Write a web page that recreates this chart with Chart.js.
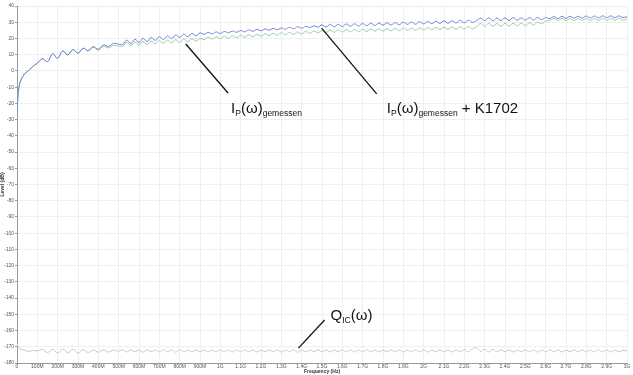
<!DOCTYPE html>
<html>
<head>
<meta charset="utf-8">
<script src="https://cdn.jsdelivr.net/npm/chart.js@4/dist/chart.umd.min.js"></script>
<style>
  html, body { margin: 0; padding: 0; background: #fff; }
  #wrap { width: 633px; height: 375px; }
</style>
</head>
<body>
<div id="wrap"><canvas id="chart" width="633" height="375"></canvas></div>
<script>
// ===== Data (frequency in MHz, level in dB) =====
const freqMHz = [
  0, 4, 10, 20, 40, 60, 80, 100, 125, 150, 175, 200, 225, 250, 275, 300, 325, 350, 375, 400, 425, 450, 475, 500,
  520, 540, 560, 580, 600, 620, 640, 660, 680, 700, 720, 740, 760, 780, 800, 820, 840, 860, 880, 900,
  920, 940, 960, 980, 1000, 1020, 1040, 1060, 1080, 1100, 1120, 1140, 1160, 1180, 1200, 1220, 1240, 1260, 1280, 1300,
  1320, 1340, 1360, 1380, 1400, 1420, 1440, 1460, 1480, 1500,
  1520, 1540, 1560, 1580, 1600, 1620, 1640, 1660, 1680, 1700, 1720, 1740, 1760, 1780, 1800, 1820, 1840, 1860, 1880, 1900,
  1920, 1940, 1960, 1980, 2000, 2020, 2040, 2060, 2080, 2100, 2120, 2140, 2160, 2180, 2200, 2220, 2240, 2260,
  2280, 2300, 2320, 2340, 2360, 2380, 2400, 2420, 2440, 2460, 2480, 2500, 2520, 2540, 2560, 2580, 2600,
  2620, 2640, 2660, 2680, 2700, 2720, 2740, 2760, 2780, 2800, 2820, 2840, 2860, 2880, 2900, 2920, 2940, 2960, 2980, 3000
];

// I_P(w) gemessen + K1702 (blue)
const ipK1702 = [
  -27, -17, -10, -5.5, -1.5, 0.5, 3, 4.7, 7.5, 5.7, 10.5, 7.8, 12.3, 9.8, 13.2, 10.9, 14, 12.5, 15, 13.3, 16, 15, 17, 16.5,
  16.3, 19.0, 16.9, 19.6, 17.5, 20.0, 18.1, 20.6, 18.8, 21.1, 19.3, 21.6, 19.9, 22.1, 20.6, 22.6, 21.1, 23.1, 21.7, 23.4,
  22.5, 23.7, 22.8, 24.0, 23.1, 24.3, 23.5, 24.6, 23.8, 24.9, 24.1, 25.3, 24.4, 25.6, 24.7, 25.9, 25.1, 26.2, 25.4, 26.5,
  25.7, 26.9, 26.0, 27.2, 26.3, 27.5, 26.7, 27.8, 27.0, 28.3,
  27.1, 28.6, 27.2, 28.7, 27.4, 28.9, 27.6, 29.0, 27.7, 29.2, 27.9, 29.3, 28.0, 29.5, 28.2, 29.7, 28.3, 29.8, 28.5, 30.0,
  28.7, 30.1, 28.8, 30.3, 29.0, 30.4, 29.1, 30.6, 29.3, 30.8, 29.4, 30.9, 29.6, 31.1, 29.7, 31.2, 29.9, 31.0,
  32.5, 31.0, 32.7, 30.9, 32.6, 31.0, 32.7, 31.1, 32.8, 31.2, 32.7, 31.3, 32.8, 31.4, 32.9, 31.6, 32.9,
  32.2, 33.5, 32.3, 33.6, 32.4, 33.7, 32.5, 33.7, 32.5, 33.8, 32.6, 33.8, 32.7, 33.9, 32.8, 33.9, 32.8, 33.9, 32.9, 33.4
];

// I_P(w) gemessen (green)
const ipMeasured = [
  -27, -17, -10, -5.5, -1.5, 0.5, 3, 4.7, 7.5, 5.7, 10.5, 7.8, 12.3, 9.8, 13.2, 10.9, 14, 12.3, 14.6, 12.8, 15.3, 14.2, 15.8, 15.3,
  15.3, 17.5, 15.6, 17.8, 15.9, 18.1, 16.3, 18.4, 16.6, 18.7, 17.0, 19.0, 17.3, 19.3, 17.6, 19.6, 18.1, 19.8, 18.4, 20.0,
  19.3, 20.8, 19.6, 21.1, 19.9, 21.4, 20.2, 21.7, 20.5, 22.0, 20.7, 22.3, 21.0, 22.6, 21.3, 22.9, 21.6, 23.2, 21.9, 23.5,
  22.2, 23.7, 22.5, 24.0, 22.8, 24.3, 23.1, 24.6, 23.4, 24.9,
  23.7, 25.2, 23.8, 25.3, 24.0, 25.4, 24.1, 25.5, 24.2, 25.7, 24.3, 25.8, 24.5, 25.9, 24.6, 26.0, 24.7, 26.2, 24.8, 26.3,
  25.0, 26.4, 25.1, 26.5, 25.2, 26.7, 25.3, 26.8, 25.5, 26.9, 25.6, 27.0, 25.7, 27.2, 25.8, 27.3, 26.0, 27.3,
  29.2, 27.6, 29.3, 27.5, 29.2, 27.6, 29.3, 27.7, 29.4, 27.8, 29.4, 28.0, 29.6, 28.3, 30.0, 29.0, 30.8,
  31.0, 32.4, 31.1, 32.3, 31.0, 32.2, 31.0, 32.2, 31.1, 32.2, 31.1, 32.3, 31.2, 32.3, 31.2, 32.4, 31.3, 32.4, 31.3, 32.0
];

// Q_IC(w) (gray)
const qIC = [
  -168, -169.5, -170.8, -171.5, -172.3, -172.8, -172.2, -172.6, -171.6, -173.6, -171.5, -173.8, -171.4, -173.7, -171.5, -173.9,
  -171.8, -173.5, -172.0, -173.4, -171.9, -173.3, -172.0, -172.8,
  -171.9, -173.2, -171.8, -173.1, -172.0, -173.3, -171.9, -173.0, -172.0, -173.2,
  -171.8, -173.1, -172.0, -173.3, -171.9, -173.0, -172.1, -173.2, -171.9, -173.1,
  -172.0, -173.2, -172.1, -173.0, -171.9, -173.1, -172.0, -173.2, -172.1, -173.0,
  -171.9, -173.1, -172.0, -173.2, -172.1, -173.0, -171.9, -173.1, -172.0, -173.2,
  -172.1, -173.0, -171.9, -173.3, -172.0, -173.1, -172.1, -173.0, -171.9, -173.1,
  -172.0, -173.2, -172.1, -173.0, -171.9, -173.1, -172.0, -173.2, -172.1, -173.0,
  -171.9, -173.1, -172.0, -173.2, -172.1, -173.0, -171.9, -173.1, -172.0, -173.2,
  -172.1, -173.0, -171.9, -173.1, -172.0, -173.2, -172.1, -173.0, -171.9, -173.1,
  -172.0, -173.2, -172.1, -173.0, -171.7, -173.1, -171.2, -170.6, -172.8, -171.5,
  -173.2, -171.6, -173.1, -171.8, -173.0, -172.0, -173.2, -172.1, -173.0, -171.9,
  -173.1, -172.0, -173.2, -172.1, -173.0, -171.9, -173.1, -172.0, -173.2, -172.1,
  -173.0, -171.9, -173.1, -172.0, -173.2, -172.1, -173.0, -171.9, -173.1, -172.0,
  -173.2, -172.1, -173.0, -172.2, -172.6
];

const xTickLabels = [
  '0', '100M', '200M', '300M', '400M', '500M', '600M', '700M', '800M', '900M',
  '1G', '1.1G', '1.2G', '1.3G', '1.4G', '1.5G', '1.6G', '1.7G', '1.8G', '1.9G',
  '2G', '2.1G', '2.2G', '2.3G', '2.4G', '2.5G', '2.6G', '2.7G', '2.8G', '2.9G', '3G'
];

// ===== Annotations (data coords: MHz, dB) =====
const pointerLines = [
  { from: [830, 16.6], to: [1038, -13.6] },
  { from: [1498, 26.4], to: [1769, -14.2] },
  { from: [1384, -170.8], to: [1513, -153.5] }
];

const labelParts = [
  { at: [1053, -25.9], parts: [['I', 0], ['P', 1], ['(\u03c9)', 0], ['gemessen', 1]] },
  { at: [1819, -25.9], parts: [['I', 0], ['P', 1], ['(\u03c9)', 0], ['gemessen', 1], [' + K1702', 0]] },
  { at: [1542, -153.5], parts: [['Q', 0], ['IC', 1], ['(\u03c9)', 0]] }
];

const toXY = (xs, ys) => xs.map((x, i) => ({ x: x, y: ys[i] }));

const annotate = {
  id: 'annotate',
  afterDatasetsDraw(chart) {
    const { ctx, scales: { x, y } } = chart;
    ctx.save();
    ctx.strokeStyle = '#111';
    ctx.lineWidth = 1.3;
    pointerLines.forEach(l => {
      ctx.beginPath();
      ctx.moveTo(x.getPixelForValue(l.from[0]), y.getPixelForValue(l.from[1]));
      ctx.lineTo(x.getPixelForValue(l.to[0]), y.getPixelForValue(l.to[1]));
      ctx.stroke();
    });
    ctx.fillStyle = '#111';
    ctx.textBaseline = 'alphabetic';
    labelParts.forEach(lab => {
      let px = x.getPixelForValue(lab.at[0]);
      const py = y.getPixelForValue(lab.at[1]);
      lab.parts.forEach(([txt, sub]) => {
        ctx.font = sub ? '8.5px "Liberation Sans", Arial, sans-serif' : '15px "Liberation Sans", Arial, sans-serif';
        ctx.fillText(txt, px, py + (sub ? 3 : 0));
        px += ctx.measureText(txt).width;
      });
    });
    ctx.restore();
  }
};

const tickFont = { family: '"Liberation Sans", Arial, sans-serif', size: 5 };

new Chart(document.getElementById('chart'), {
  type: 'line',
  data: {
    datasets: [
      { label: 'IP + K1702', data: toXY(freqMHz, ipK1702), borderColor: '#7482de', borderWidth: 1 },
      { label: 'IP gemessen', data: toXY(freqMHz, ipMeasured), borderColor: '#9ccaa6', borderWidth: 1 },
      { label: 'QIC', data: toXY(freqMHz, qIC), borderColor: '#c8c8c8', borderWidth: 1 }
    ]
  },
  options: {
    responsive: false,
    animation: false,
    elements: { point: { radius: 0 }, line: { tension: 0.4 } },
    layout: { padding: { top: 6, right: 6, left: 0, bottom: 0 } },
    plugins: { legend: { display: false }, tooltip: { enabled: false } },
    scales: {
      x: {
        type: 'linear', min: 0, max: 3000,
        afterFit: s => { s.height = 12; },
        grid: { color: '#efefef', tickLength: 1, tickColor: '#999' },
        border: { color: '#999' },
        ticks: {
          stepSize: 100, autoSkip: false, maxRotation: 0, padding: 0,
          font: tickFont, color: '#555',
          callback: (v, i) => xTickLabels[i]
        },
        title: { display: true, text: 'Frequency (Hz)', font: { ...tickFont, weight: 'bold' }, color: '#333', padding: 0 }
      },
      y: {
        min: -180, max: 40,
        afterFit: s => { s.width = 17; },
        grid: { color: '#efefef', tickLength: 2, tickColor: '#999' },
        border: { color: '#999' },
        ticks: { stepSize: 10, padding: 1, font: tickFont, color: '#555' },
        title: { display: true, text: 'Level (dB)', font: { ...tickFont, weight: 'bold' }, color: '#333', padding: 0 }
      }
    }
  },
  plugins: [annotate]
});
</script>
</body>
</html>
